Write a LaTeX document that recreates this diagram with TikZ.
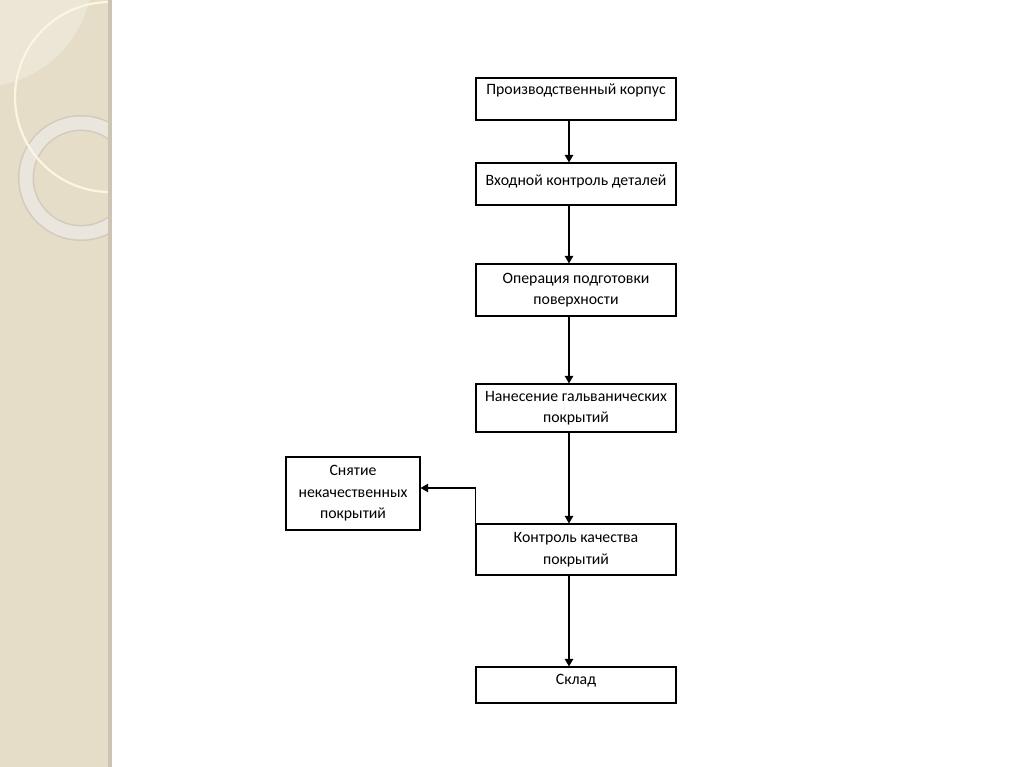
\documentclass[tikz,border=0pt]{standalone}
\usepackage{fontspec}
\setmainfont{Carlito}
\usetikzlibrary{arrows.meta}

\definecolor{strip}{RGB}{229,221,200}
\definecolor{stripedge}{RGB}{205,197,180}
\definecolor{ringcream}{RGB}{250,246,226}
\definecolor{ringgrey}{RGB}{234,230,221}
\definecolor{ringline}{RGB}{210,203,188}
\definecolor{lens}{RGB}{236,230,214}

\begin{document}
\begin{tikzpicture}[x=1pt,y=-1pt,
    box/.style={draw,line width=1.2pt,minimum width=200pt,align=center,inner sep=2pt,
      font=\fontsize{15.8}{21.5}\selectfont},
    upper/.style={text height=11pt,text depth=#1},
    arr/.style={-{Triangle[length=7.5pt,width=8.5pt]},line width=1.1pt}]
\useasboundingbox (0,0) rectangle (1024,767);
\fill[white] (0,0) rectangle (1024,767);

% left strip of the slide
\begin{scope}
  \clip (0,0) rectangle (108,767);
  \fill[strip] (0,0) rectangle (108,767);
  \fill[lens] (-20,-25) circle (112);
  \draw[ringline,line width=16pt] (81,178) circle (55);
  \draw[ringgrey,line width=13pt] (81,178) circle (55);
  \draw[ringcream,line width=2.2pt] (110,97) circle (95);
\end{scope}
\fill[stripedge] (108,0) rectangle (112,767);

\coordinate (axis) at (569,0);

\node[box,minimum height=42pt,upper=20pt] (prod) at (576,99) {Производственный корпус};
\node[box,minimum height=42pt,upper=8pt] (vhod) at (576,184) {Входной контроль деталей};
\node[box,minimum height=52pt] (podg) at (576,290) {Операция подготовки\\поверхности};
\node[box,minimum height=48pt] (nanes) at (576,408) {Нанесение гальванических\\покрытий};
\node[box,minimum height=51pt] (kontr) at (576,549.5) {Контроль качества\\покрытий};
\node[box,minimum height=36pt,upper=12pt] (sklad) at (576,685) {Склад};
\node[box,minimum width=134pt,minimum height=73pt] (snyat) at (353,493.5) {Снятие\\некачественных\\покрытий};

\foreach \a/\b in {prod/vhod,vhod/podg,podg/nanes,nanes/kontr,kontr/sklad}
  \draw[arr] (\a.south -| axis) -- (\b.north -| axis);
\draw[arr] (kontr.north west) |- ([yshift=5.5pt]snyat.east);
\end{tikzpicture}
\end{document}
